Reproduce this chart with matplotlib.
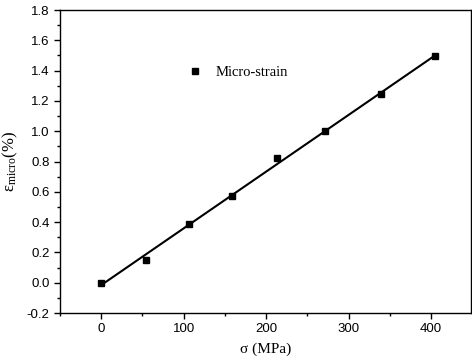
import numpy as np
import matplotlib
matplotlib.use('Agg')
from matplotlib import pyplot as plt
import matplotlib.ticker as mticker

stress = [0, 54, 106, 159, 213, 272, 339, 405]
strain = [0.0, 0.15, 0.385, 0.575, 0.82, 1.0, 1.245, 1.495]

plt.rcParams['mathtext.fontset'] = 'custom'
plt.rcParams['mathtext.rm'] = 'Liberation Serif'
plt.rcParams['mathtext.it'] = 'Liberation Serif'
plt.rcParams['font.family'] = 'sans-serif'
plt.rcParams['font.sans-serif'] = ['Liberation Sans', 'DejaVu Sans']

fig = plt.figure(figsize=(4.72, 3.64), dpi=100)
ax = fig.add_axes([0.127, 0.140, 0.870, 0.8325])

# linear fit
k, b = np.polyfit(stress, strain, 1)
xs = np.array([stress[0], stress[-1]])
ax.plot(xs, k * xs + b, color='black', lw=1.5, zorder=2)
ax.plot(stress, strain, 's', color='black', ms=4.5, zorder=3, label='Micro-strain')

ax.set_xlim(-50, 448)
ax.set_ylim(-0.2, 1.8)
ax.xaxis.set_major_locator(mticker.MultipleLocator(100))
ax.xaxis.set_minor_locator(mticker.MultipleLocator(50))
ax.yaxis.set_major_locator(mticker.MultipleLocator(0.2))
ax.yaxis.set_minor_locator(mticker.MultipleLocator(0.1))
ax.yaxis.set_major_formatter(mticker.FormatStrFormatter('%.1f'))
ax.tick_params(which='both', direction='out', labelsize=9.5, width=1,
               labelfontfamily='Liberation Sans')
ax.tick_params(which='major', length=4)
ax.tick_params(which='minor', length=2.5)
for s in ax.spines.values():
    s.set_linewidth(1)

ax.set_xlabel('σ (MPa)', family='Liberation Serif', fontsize=11, labelpad=5)
ax.set_ylabel(r'$\mathrm{ε_{micro}}$(%)', family='Liberation Serif', fontsize=12, labelpad=5)

ax.legend(loc='center left', bbox_to_anchor=(0.28, 0.795), frameon=False,
          prop={'family': 'Liberation Serif', 'size': 10.5}, handletextpad=0.9,
          handlelength=1.0)

fig.savefig('out.png', dpi=100)
